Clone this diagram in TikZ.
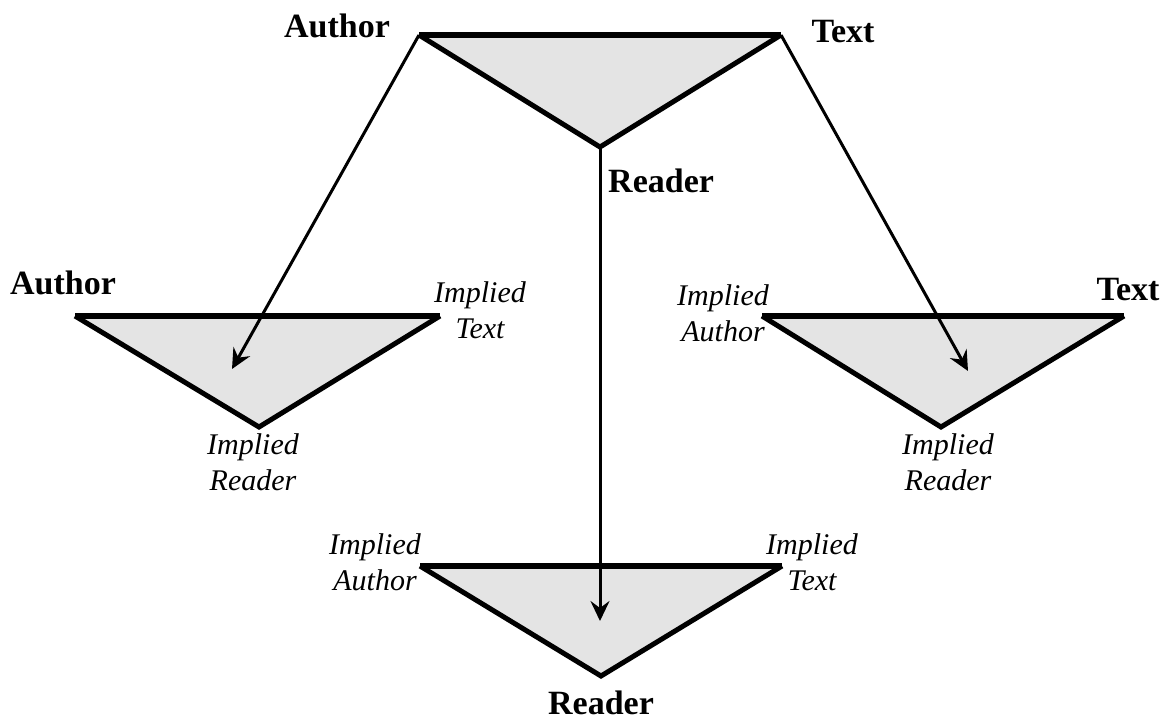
\documentclass[tikz,border=0pt]{standalone}
\usepackage{fontspec}
\setmainfont{Liberation Serif}
\usetikzlibrary{arrows.meta}
\definecolor{trifill}{RGB}{228,228,228}
\tikzset{
  tri/.style={fill=trifill},
  topedge/.style={line width=6pt},
  sideedge/.style={line width=5pt, line join=miter},
  link/.style={line width=3pt, -{Stealth[length=20pt,width=19pt,inset=7pt]}},
  bold label/.style={font=\fontsize{34}{38}\selectfont\bfseries, inner sep=0pt},
  implied/.style={font=\fontsize{30}{36}\selectfont\itshape, align=center, inner sep=0pt},
}
\begin{document}
\begin{tikzpicture}[x=1pt,y=-1pt]
\useasboundingbox (0,0) rectangle (1173,724);
% corners of the four triangles
\coordinate (tA) at (419,35);  \coordinate (tT) at (781,35);  \coordinate (tR) at (600,147);
\coordinate (lA) at (75,316);  \coordinate (lT) at (440,316); \coordinate (lR) at (259,427);
\coordinate (rA) at (762,316); \coordinate (rT) at (1124,316);\coordinate (rR) at (941,427);
\coordinate (bA) at (420,566); \coordinate (bT) at (782,566); \coordinate (bR) at (601,676);
% arrow targets
\coordinate (lEnd) at (232,369);
\coordinate (rEnd) at (968,371);
\coordinate (bEnd) at (600,621);
% fills
\foreach \p in {t,l,r,b}
  \fill[tri] (\p A) -- (\p T) -- (\p R) -- cycle;
% connectors
\draw[link] (tA) -- (lEnd);
\draw[link] (tT) -- (rEnd);
\draw[link] (tR) -- (bEnd);
% edges
\foreach \p in {t,l,r,b}{
  \draw[sideedge] (\p A) -- (\p R) -- (\p T);
  \draw[topedge] (\p A) -- (\p T);
}
% labels
\node[bold label, anchor=base] (aTop) at (337,37) {Author};
\node[bold label, anchor=base] (tTop) at (843,42) {Text};
\node[bold label, anchor=base west] (rTop) at (608,192) {Reader};
\node[bold label, anchor=base] (aLeft) at (63,294) {Author};
\node[implied] (itLeft) at (480,310) {Implied\\Text};
\node[implied] (irLeft) at (253,462) {Implied\\Reader};
\node[implied] (iaRight) at (723,313) {Implied\\Author};
\node[bold label, anchor=base] (tRight) at (1128,300) {Text};
\node[implied] (irRight) at (948,462) {Implied\\Reader};
\node[implied] (iaBot) at (375,562) {Implied\\Author};
\node[implied] (itBot) at (812,562) {Implied\\Text};
\node[bold label, anchor=base] (rBot) at (601,714) {Reader};
\end{tikzpicture}
\end{document}
